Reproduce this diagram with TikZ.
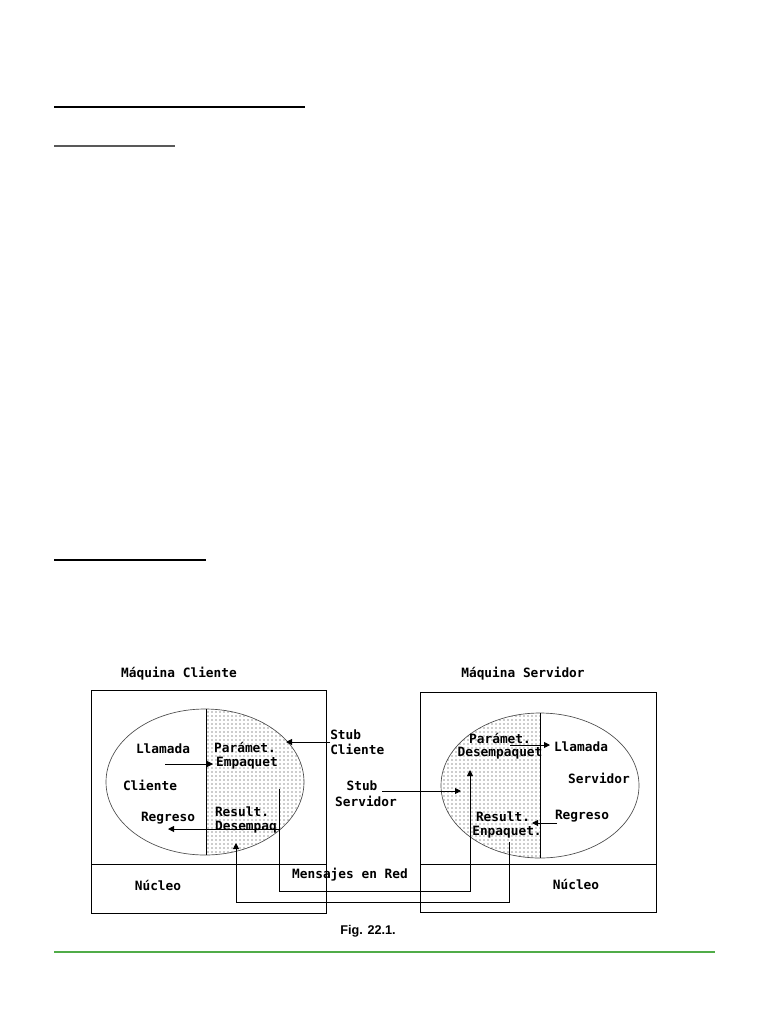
\documentclass[tikz,border=0pt]{standalone}
\usepackage{fontspec}
\setmainfont{Liberation Sans}
\newfontfamily\pixfont{DejaVu Sans Mono}
\usetikzlibrary{arrows.meta,patterns}
\definecolor{rulegreen}{RGB}{80,172,72}
\tikzset{
  lbl/.style={font=\pixfont\bfseries\fontsize{9.6}{10}\selectfont, inner sep=0pt},
  ln/.style={line width=0.7pt},
  arr/.style={ln,-{Triangle[length=4.5pt,width=4.5pt]}},
  dotted fill/.style={pattern=dots, pattern color=black!85},
}
\begin{document}
\begin{tikzpicture}[x=0.75pt,y=-0.75pt]
\useasboundingbox (0,0) rectangle (768,1024);
% page rules
\draw[line width=1.5pt] (54,107) -- (305,107);
\draw[line width=1.5pt, black!65] (54,146) -- (175,146);
\draw[line width=1.5pt] (54,560) -- (206,560);
\draw[line width=1.1pt, rulegreen] (54,952) -- (715,952);
% client machine
\draw[ln] (91,690) rectangle (326,913);
\draw[ln] (91,864) -- (326,864);
\begin{scope}
  \clip (205,782) ellipse [x radius=99, y radius=73];
  \fill[dotted fill] (206,700) rectangle (310,860);
\end{scope}
\draw[line width=0.5pt, black!70] (205,782) ellipse [x radius=99, y radius=73];
\draw[ln] (206,709) -- (206,855);
% server machine
\draw[ln] (420,692) rectangle (656,912);
\draw[ln] (420,864) -- (656,864);
\begin{scope}
  \clip (540,785.5) ellipse [x radius=99, y radius=72.5];
  \fill[dotted fill] (435,705) rectangle (540,865);
\end{scope}
\draw[line width=0.5pt, black!70] (540,785.5) ellipse [x radius=99, y radius=72.5];
\draw[ln] (540,713) -- (540,858);
% labels
\node[lbl] (mc) at (179,674) {Máquina Cliente};
\node[lbl] (ms) at (523,674) {Máquina Servidor};
\node[lbl] (llc) at (163,749) {Llamada};
\node[lbl] (clc) at (150,785) {Cliente};
\node[lbl] (rgc) at (168,818) {Regreso};
\node[lbl] (pac) at (245,747) {Parámet.};
\node[lbl] (emc) at (247,763) {Empaquet};
\node[lbl] (rsc) at (242,812) {Result.};
\node[lbl] (dsc) at (246,827) {Desempaq};
\node[lbl] (nuc) at (158,885) {Núcleo};
\node[lbl] (mr) at (350,875) {Mensajes en Red};
\node[lbl] (pas) at (500,738) {Parámet.};
\node[lbl] (dss) at (500,753) {Desempaquet};
\node[lbl] (lls) at (581,747) {Llamada};
\node[lbl] (svs) at (599,778) {Servidor};
\node[lbl] (rgs) at (582,816) {Regreso};
\node[lbl] (rss) at (503,817) {Result.};
\node[lbl] (ens) at (507,832) {Enpaquet.};
\node[lbl] (nus) at (576,884) {Núcleo};
\node[lbl, anchor=west] (stc1) at (330,735) {Stub};
\node[lbl, anchor=west] (stc2) at (330,749) {Cliente};
\node[lbl] (sts1) at (362,786) {Stub};
\node[lbl] (sts2) at (366,801) {Servidor};
\node[font=\bfseries\fontsize{9.5}{11}\selectfont, inner sep=0pt] (fig) at (368,931) {Fig. 22.1.};
% arrow end points
\coordinate (c1s) at (165,764);  \coordinate (c1e) at (213,764);
\coordinate (c2s) at (330,742);  \coordinate (c2e) at (286,742);
\coordinate (c3s) at (279,829);  \coordinate (c3e) at (168,829);
\coordinate (s1s) at (510,745);  \coordinate (s1e) at (550,745);
\coordinate (s2s) at (557,823);  \coordinate (s2e) at (532,823);
\coordinate (s3s) at (382,791);  \coordinate (s3e) at (461,791);
\coordinate (m1s) at (279,789);  \coordinate (m1e) at (470,770);
\coordinate (m2s) at (509,842);  \coordinate (m2e) at (236,843);
% arrows
\draw[arr] (c1s) -- (c1e);
\draw[arr] (c2s) -- (c2e);
\draw[arr] (c3s) -- (c3e);
\draw[arr] (s1s) -- (s1e);
\draw[arr] (s2s) -- (s2e);
\draw[arr] (s3s) -- (s3e);
\draw[arr] (m1s) -- (279,891) -- (470,891) -- (m1e);
\draw[arr] (m2s) -- (509,902) -- (236,902) -- (m2e);
\end{tikzpicture}
\end{document}
